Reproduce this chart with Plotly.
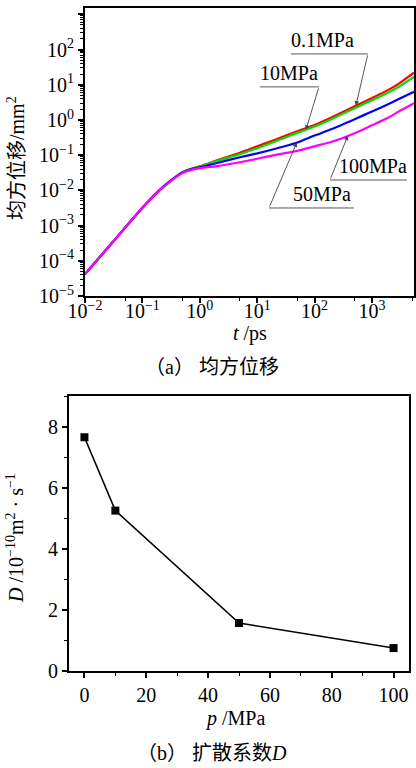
import numpy as np
import plotly.graph_objects as go

# ---- (a) mean square displacement vs time, one curve per pressure ----
t_ps = [0.01, 0.03, 0.1, 0.2, 0.3, 0.5, 0.8, 1, 2, 5, 10, 20, 50, 100, 200, 500,
        1000, 2000, 3000, 5400]
msd_01mpa = [4.2e-5, 3.3e-4, 3.2e-3, 1.02e-2, 1.8e-2, 3.3e-2, 4.4e-2, 4.8e-2, 7.1e-2,
             0.117, 0.178, 0.27, 0.48, 0.72, 1.20, 2.45, 4.2, 7.4, 11.0, 22.0]
msd_10mpa = [4.2e-5, 3.3e-4, 3.2e-3, 1.02e-2, 1.8e-2, 3.3e-2, 4.3e-2, 4.7e-2, 6.8e-2,
             0.107, 0.158, 0.24, 0.43, 0.65, 1.07, 2.15, 3.6, 6.2, 8.9, 16.6]
msd_50mpa = [4.2e-5, 3.3e-4, 3.2e-3, 1.02e-2, 1.8e-2, 3.2e-2, 4.2e-2, 4.5e-2, 6.0e-2,
             8.7e-2, 0.112, 0.15, 0.23, 0.36, 0.55, 1.05, 1.74, 2.9, 4.0, 6.3]
msd_100mpa = [4.2e-5, 3.3e-4, 3.2e-3, 1.0e-2, 1.75e-2, 3.1e-2, 4.0e-2, 4.3e-2, 4.9e-2,
              6.3e-2, 0.079, 0.10, 0.132, 0.178, 0.24, 0.42, 0.71, 1.20, 1.78, 3.0]
series_names = ["0.1MPa", "10MPa", "50MPa", "100MPa"]
series_colors = ["#ff0000", "#00dd00", "#0000ff", "#ff00ff"]

# ---- (b) diffusion coefficient vs pressure ----
p_mpa = [0, 10, 50, 100]
d_coef = [7.65, 5.25, 1.57, 0.75]

x_major = [0.01, 0.1, 1, 10, 100, 1000]
x_major_text = ["10<sup>−2</sup>", "10<sup>−1</sup>", "10<sup>0</sup>",
                "10<sup>1</sup>", "10<sup>2</sup>", "10<sup>3</sup>"]
y_major = [1e-5, 1e-4, 1e-3, 1e-2, 1e-1, 1, 10, 100, 1000]
y_major_text = ["10<sup>−5</sup>", "10<sup>−4</sup>", "10<sup>−3</sup>", "10<sup>−2</sup>",
                "10<sup>−1</sup>", "10<sup>0</sup>", "10<sup>1</sup>", "10<sup>2</sup>", ""]

SERIF = "'Liberation Serif', 'Times New Roman', serif"
CJK = "'Liberation Serif', 'Noto Sans CJK SC', serif"
W, H = 416, 768

fig = go.Figure()

all_msd = [msd_01mpa, msd_10mpa, msd_50mpa, msd_100mpa]
for name, vals, col in zip(series_names, all_msd, series_colors):
    fig.add_trace(go.Scatter(x=t_ps, y=vals, mode="lines", name=name,
                             line=dict(color=col, width=2.2, shape="spline", smoothing=0.5),
                             xaxis="x", yaxis="y", showlegend=False))

fig.add_trace(go.Scatter(x=p_mpa, y=d_coef, mode="lines+markers",
                         line=dict(color="black", width=1.6),
                         marker=dict(symbol="square", size=8, color="black"),
                         xaxis="x2", yaxis="y2", showlegend=False))

axis_common = dict(showline=True, linecolor="black", linewidth=2, mirror=True,
                   showgrid=False, zeroline=False, ticks="outside", automargin=False,
                   tickcolor="black", tickwidth=1.5, ticklen=5,
                   tickfont=dict(family=SERIF, size=20, color="black"))

y_minor = [m * 10.0 ** e for e in range(-5, 3) for m in range(2, 10)]

fig.update_layout(
    width=W, height=H,
    margin=dict(l=0, r=0, t=0, b=0, autoexpand=False),
    paper_bgcolor="white", plot_bgcolor="white",
    xaxis=dict(type="log", domain=[85 / W, 414 / W], range=[-2, 3.733], anchor="y",
               tickmode="array", tickvals=x_major, ticktext=x_major_text,
               ticklabelstandoff=-9,
               minor=dict(tickvals=[0.05, 0.5, 5, 50, 500, 5000], ticks="outside",
                          ticklen=3, tickwidth=1.2, tickcolor="black"),
               **axis_common),
    yaxis=dict(type="log", domain=[1 - 296 / H, 1 - 8 / H], range=[-5, 3.18], anchor="x",
               tickmode="array", tickvals=y_major, ticktext=y_major_text,
               minor=dict(tickvals=y_minor, ticks="outside", ticklen=3,
                          tickwidth=1.2, tickcolor="black"),
               **axis_common),
    xaxis2=dict(domain=[69 / W, 409 / W], range=[-5, 105], anchor="y2",
                tickmode="array", tickvals=[0, 20, 40, 60, 80, 100],
                minor=dict(dtick=10, tick0=0, ticks="outside", ticklen=3,
                           tickwidth=1.2, tickcolor="black"),
                **axis_common),
    yaxis2=dict(domain=[1 - 671 / H, 1 - 396 / H], range=[0, 9], anchor="x2",
                tickmode="array", tickvals=[0, 2, 4, 6, 8],
                minor=dict(dtick=1, tick0=0, ticks="outside", ticklen=3,
                           tickwidth=1.2, tickcolor="black"),
                **axis_common),
)

# ---- pressure labels with underline and leader arrow (positions in log10 units) ----
log_t = np.log10(t_ps)
label_specs = [
    # text, series index, text x, underline x0, x1, underline y, knee x, tip log t
    ("0.1MPa", 0, 2.146, 1.589, 2.930, 1.875, 2.930, 2.72),
    ("10MPa", 1, 1.554, 1.049, 2.077, 0.94, 2.077, 1.85),
    ("100MPa", 3, 3.017, 2.268, 3.610, -1.705, 2.268, 2.58),
    ("50MPa", 2, 2.129, 1.206, 2.686, -2.50, 1.206, 1.69),
]
leader = "#444444"
for text, idx, tx, ux0, ux1, uy, kx, tip_lt in label_specs:
    tip_lv = float(np.interp(tip_lt, log_t, np.log10(all_msd[idx])))
    # shapes on log axes take plain data values
    fig.add_shape(type="line", xref="x", yref="y",
                  x0=10 ** ux0, x1=10 ** ux1, y0=10 ** uy, y1=10 ** uy,
                  line=dict(color=leader, width=0.9))
    fig.add_annotation(x=tx, y=uy, xref="x", yref="y", text=text, showarrow=False,
                       yanchor="bottom", xanchor="center", yshift=1,
                       font=dict(family=SERIF, size=20, color="black"))
    fig.add_annotation(x=tip_lt, y=tip_lv, xref="x", yref="y",
                       ax=kx, ay=uy, axref="x", ayref="y", text="",
                       showarrow=True, arrowhead=2, arrowsize=1.0, arrowwidth=0.9,
                       arrowcolor=leader, standoff=0)

# ---- axis titles and captions ----
def paper_y(py):
    return 1 - py / H

titles = [
    dict(x=250 / W, y=paper_y(334), text="<i>t</i> /ps", textangle=0),
    dict(x=16 / W, y=paper_y(158), text="均方位移/mm<sup>2</sup>", textangle=-90),
    dict(x=212 / W, y=paper_y(367), text="（a） 均方位移", textangle=0),
    dict(x=235 / W, y=paper_y(718), text="<i>p</i> /MPa", textangle=0),
    dict(x=15 / W, y=paper_y(538),
         text="<i>D</i> /10<sup>−10</sup>m<sup>2</sup> · s<sup>−1</sup>", textangle=-90),
    dict(x=212 / W, y=paper_y(753), text="（b） 扩散系数<i>D</i>", textangle=0),
]
for a in titles:
    fig.add_annotation(xref="paper", yref="paper", showarrow=False,
                       xanchor="center", yanchor="middle",
                       font=dict(family=CJK, size=20, color="black"), **a)

fig.write_html("out.html")
